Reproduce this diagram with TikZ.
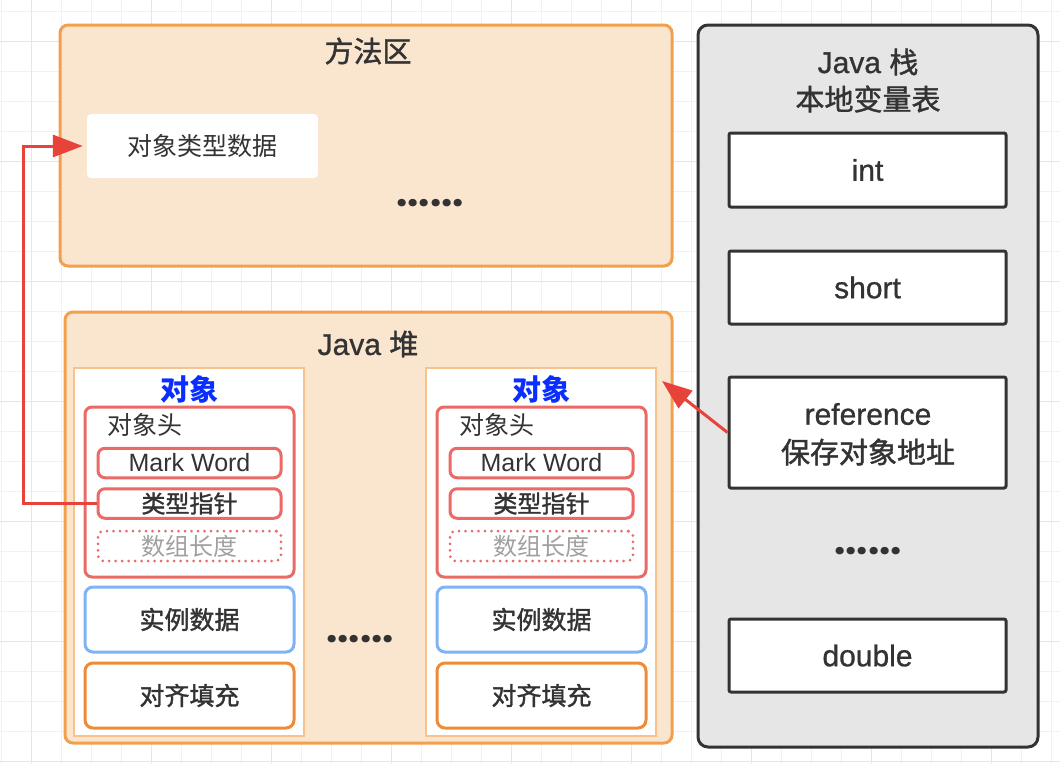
\documentclass[tikz,border=0pt]{standalone}
\usepackage{fontspec}
\setmainfont{Liberation Sans}
\newfontfamily\cjk{Noto Sans CJK SC}
\newfontfamily\cjkm[FakeBold=1.4]{Noto Sans CJK SC}
\newfontfamily\latm[FakeBold=0.9]{Liberation Sans}
\newfontfamily\dotfont{Poppins}
\usetikzlibrary{arrows.meta}
\definecolor{txtc}{HTML}{333333}
\definecolor{gridminor}{HTML}{F1F1F1}
\definecolor{gridmajorc}{HTML}{E6E6E6}
\definecolor{areafill}{HTML}{FAE5CE}
\definecolor{areaborder}{HTML}{F2A04E}
\definecolor{objborder}{HTML}{F7C28C}
\definecolor{redc}{HTML}{EA6B66}
\definecolor{bluec}{HTML}{7EB3F5}
\definecolor{orangec}{HTML}{EF8A36}
\definecolor{stackfill}{HTML}{E6E6E6}
\definecolor{arrowred}{HTML}{E8433B}
\definecolor{objblue}{HTML}{0A2EFF}
\definecolor{greytxt}{HTML}{A0A0A0}
\newcommand\fsz[2]{\fontsize{#1}{#2}\selectfont}
\begin{document}
\begin{tikzpicture}[x=1pt,y=-1pt,
  gridline/.style={draw=gridminor, line width=1pt},
  gridmajor/.style={draw=gridmajorc, line width=1.4pt},
  areabox/.style={draw=areaborder, fill=areafill, line width=3pt, rounded corners=8pt, inner sep=0pt},
  objbox/.style={draw=objborder, fill=white, line width=2.5pt, inner sep=0pt, minimum width=230pt, minimum height=368pt},
  hdrbox/.style={draw=redc, fill=white, line width=3pt, rounded corners=7pt, inner sep=0pt, minimum width=209pt, minimum height=170pt},
  fieldbox/.style={draw=redc, fill=white, line width=3pt, rounded corners=7pt, inner sep=0pt, minimum width=183pt, minimum height=29.5pt, text=txtc},
  optbox/.style={draw=redc, line width=3pt, dash pattern=on 0pt off 6.5pt, line cap=round, rounded corners=5pt, inner sep=0pt, minimum width=183pt, minimum height=30pt, text=greytxt},
  databox/.style={draw=bluec, fill=white, line width=3pt, rounded corners=8pt, inner sep=0pt, minimum width=209pt, minimum height=65pt, text=txtc},
  padbox/.style={draw=orangec, fill=white, line width=3pt, rounded corners=8pt, inner sep=0pt, minimum width=209pt, minimum height=65pt, text=txtc},
  stackbox/.style={draw=txtc, fill=stackfill, line width=3pt, rounded corners=10pt, inner sep=0pt},
  stackitem/.style={draw=txtc, fill=white, line width=3pt, rounded corners=2pt, inner sep=0pt, minimum width=277pt, text=txtc},
  lbl/.style={text=txtc, inner sep=0pt},
  dots/.style={text=txtc, inner sep=0pt, font=\fsz{40}{44}\dotfont\bfseries},
  redarrow/.style={draw=arrowred, line width=3pt, -{Triangle[length=30pt,width=22pt]}}
]
\useasboundingbox (0,0) rectangle (1060,764);
\fill[white] (0,0) rectangle (1060,764);
% background grid
\foreach \x in {1.5,31.5,...,1060} \draw[gridline] (\x,0) -- (\x,764);
\foreach \y in {11.5,41.5,...,764} \draw[gridline] (0,\y) -- (1060,\y);
\foreach \x in {31.5,151.5,...,1060} \draw[gridmajor] (\x,0) -- (\x,764);
\foreach \y in {41.5,161.5,...,764} \draw[gridmajor] (0,\y) -- (1060,\y);

% method area
\node[areabox, minimum width=612pt, minimum height=241pt] (ma) at (366,145.5) {};
\node[lbl, font=\fsz{29}{34}\cjkm] (matitle) at (368,51) {方法区};
\node[fill=white, rounded corners=4pt, inner sep=0pt, minimum width=231pt, minimum height=64pt, text=txtc, font=\fsz{25}{30}\cjk] (typedata) at (202.5,146) {对象类型数据};
\node[dots] (madots) at (430,203) {......};

% heap
\node[areabox, minimum width=607pt, minimum height=431pt] (heap) at (368.5,527.5) {};
\node[lbl, font=\fsz{30}{36}\latm] (heaptitle) at (368,344) {Java {\cjkm\fsz{29}{34}堆}};
\node[dots] (heapdots) at (360,639) {......};

% left object
\node[objbox] (objL) at (189,552) {};
\node[text=objblue, inner sep=0pt, font=\fsz{29}{34}\cjk\bfseries] (objLt) at (189,389) {对象};
\node[hdrbox] (hdrL) at (189.5,492) {};
\node[lbl, anchor=west, font=\fsz{25}{30}\cjk] (hdrLt) at (107,425) {对象头};
\node[fieldbox, font=\fsz{25}{30}] (mwL) at (189.5,463) {Mark Word};
\node[fieldbox, font=\fsz{24}{30}\cjkm] (tpL) at (189.5,503.5) {类型指针};
\node[optbox, font=\fsz{24}{30}\cjk] (alL) at (189.5,546) {数组长度};
\node[databox, font=\fsz{25}{30}\cjkm] (idL) at (189.5,619.5) {实例数据};
\node[padbox, font=\fsz{25}{30}\cjkm] (pdL) at (189.5,695.5) {对齐填充};

% right object
\node[objbox] (objR) at (541,552) {};
\node[text=objblue, inner sep=0pt, font=\fsz{29}{34}\cjk\bfseries] (objRt) at (541,389) {对象};
\node[hdrbox] (hdrR) at (541.5,492) {};
\node[lbl, anchor=west, font=\fsz{25}{30}\cjk] (hdrRt) at (459,425) {对象头};
\node[fieldbox, font=\fsz{25}{30}] (mwR) at (541.5,463) {Mark Word};
\node[fieldbox, font=\fsz{24}{30}\cjkm] (tpR) at (541.5,503.5) {类型指针};
\node[optbox, font=\fsz{24}{30}\cjk] (alR) at (541.5,546) {数组长度};
\node[databox, font=\fsz{25}{30}\cjkm] (idR) at (541.5,619.5) {实例数据};
\node[padbox, font=\fsz{25}{30}\cjkm] (pdR) at (541.5,695.5) {对齐填充};

% java stack
\node[stackbox, minimum width=340pt, minimum height=722pt] (stack) at (868,386) {};
\node[lbl, font=\fsz{30}{36}\latm] (stackt1) at (868,62) {Java {\cjkm\fsz{29}{34}栈}};
\node[lbl, font=\fsz{29}{34}\cjkm] (stackt2) at (868,99) {本地变量表};
\node[stackitem, minimum height=74pt, font=\fsz{30}{36}\latm] (sint) at (867.5,170) {int};
\node[stackitem, minimum height=73pt, font=\fsz{30}{36}\latm] (sshort) at (867.5,287.5) {short};
\node[stackitem, minimum height=111pt] (sref) at (867.5,432.5) {};
\node[lbl, font=\fsz{30}{36}\latm] (sreft1) at (868,414) {reference};
\node[lbl, font=\fsz{29}{34}\cjkm] (sreft2) at (868,452) {保存对象地址};
\node[dots] (sdots) at (868,551) {......};
\node[stackitem, minimum height=73pt, font=\fsz{30}{36}\latm] (sdouble) at (867.5,655.5) {double};

% connectors
\coordinate (reftip) at (662,381);
\draw[redarrow] (tpL.west) -- ++(-73,0) |- ([xshift=-4pt]typedata.west);
\draw[redarrow] (sref.west) -- (reftip);
\end{tikzpicture}
\end{document}
